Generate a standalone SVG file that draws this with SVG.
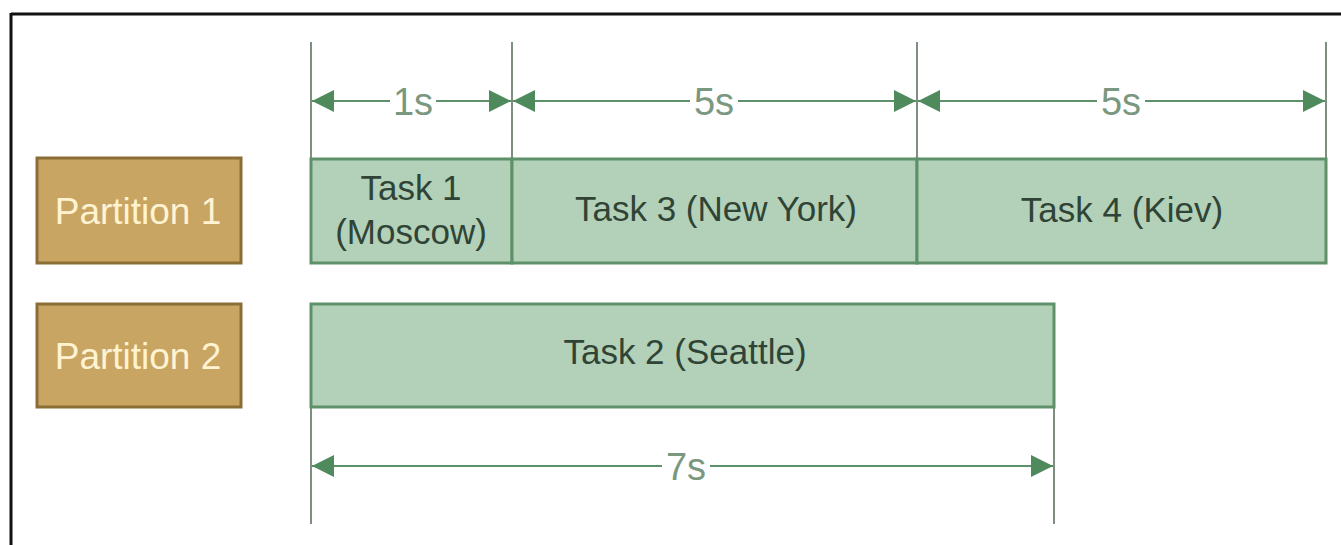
<svg xmlns="http://www.w3.org/2000/svg" width="1341" height="545" viewBox="0 0 1341 545">
<style>
.part{fill:#C8A562;stroke:#8A6E34;stroke-width:3}
.ptxt{fill:#FFF3D2;font-family:"Liberation Sans",Arial,sans-serif;font-size:37px;text-anchor:middle}
.task{fill:#B3D1B8;stroke:#5E9169;stroke-width:3}
.ttxt{fill:#2F4436;font-family:"Liberation Sans",Arial,sans-serif;font-size:35px;text-anchor:middle}
.tick{stroke:#7E8F80;stroke-width:2;fill:none}
.dim{stroke:#5E9169;stroke-width:2;fill:none;marker-start:url(#ah);marker-end:url(#ah)}
.dtxt{fill:#7A9880;font-family:"Liberation Sans",Arial,sans-serif;font-size:38px;text-anchor:middle}
.lbg{fill:#ffffff}
</style>
<defs>
<marker id="ah" viewBox="0 0 22 22" refX="22" refY="11" markerWidth="22" markerHeight="22" markerUnits="userSpaceOnUse" orient="auto-start-reverse">
<path d="M0,0 L22,11 L0,22 Z" fill="#4E8A5C"/>
</marker>
</defs>
<rect x="0" y="0" width="1341" height="545" fill="#ffffff"/>
<g id="frame">
<line x1="11" y1="14" x2="1341" y2="14" stroke="#111" stroke-width="3"/>
<line x1="11" y1="13" x2="11" y2="545" stroke="#111" stroke-width="3"/>
</g>
<g id="connectors">
<line class="tick" x1="311" y1="42" x2="311" y2="158"/>
<line class="tick" x1="512" y1="42" x2="512" y2="158"/>
<line class="tick" x1="917" y1="42" x2="917" y2="158"/>
<line class="tick" x1="1326" y1="42" x2="1326" y2="158"/>
<line class="tick" x1="311" y1="407" x2="311" y2="524"/>
<line class="tick" x1="1054" y1="407" x2="1054" y2="524"/>
<line class="dim" x1="312" y1="101" x2="511" y2="101"/>
<line class="dim" x1="513" y1="101" x2="916" y2="101"/>
<line class="dim" x1="918" y1="101" x2="1325" y2="101"/>
<line class="dim" x1="312" y1="466" x2="1053" y2="466"/>
<rect class="lbg" x="390" y="86" width="46" height="30"/>
<rect class="lbg" x="690" y="86" width="48" height="30"/>
<rect class="lbg" x="1097" y="86" width="48" height="30"/>
<rect class="lbg" x="662" y="451" width="48" height="30"/>
<text class="dtxt" x="413" y="115">1s</text>
<text class="dtxt" x="714" y="115">5s</text>
<text class="dtxt" x="1121" y="115">5s</text>
<text class="dtxt" x="686" y="480">7s</text>
</g>
<g id="partition1">
<rect class="part" x="37" y="158" width="204" height="105"/>
<text class="ptxt" x="138" y="224">Partition 1</text>
</g>
<g id="partition2">
<rect class="part" x="37" y="304" width="204" height="103"/>
<text class="ptxt" x="138" y="369">Partition 2</text>
</g>
<g id="task1">
<rect class="task" x="311" y="159" width="201" height="104"/>
<text class="ttxt" x="411" y="200">Task 1</text>
<text class="ttxt" x="411" y="244">(Moscow)</text>
</g>
<g id="task3">
<rect class="task" x="512" y="159" width="405" height="104"/>
<text class="ttxt" x="716" y="221">Task 3 (New York)</text>
</g>
<g id="task4">
<rect class="task" x="917" y="159" width="409" height="104"/>
<text class="ttxt" x="1122" y="222">Task 4 (Kiev)</text>
</g>
<g id="task2">
<rect class="task" x="311" y="304" width="743" height="103"/>
<text class="ttxt" x="685" y="364">Task 2 (Seattle)</text>
</g>
</svg>
